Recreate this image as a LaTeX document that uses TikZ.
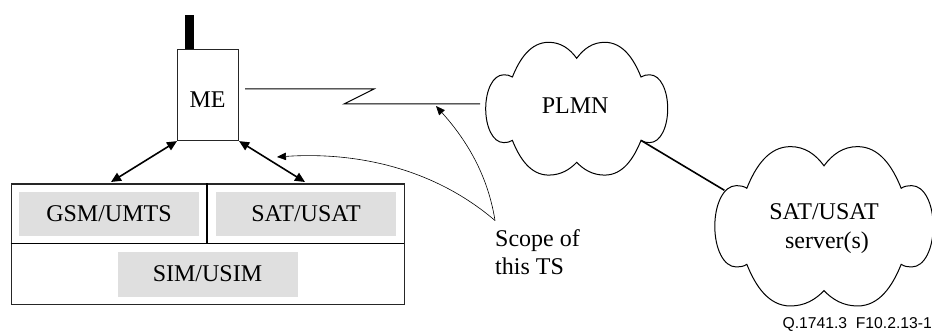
\documentclass[tikz,border=0pt]{standalone}
\usepackage{fontspec}
\setmainfont{Liberation Serif}
\newfontfamily\labelsans{Liberation Sans}
\usetikzlibrary{arrows.meta}
\newcommand{\cloudoutline}{%
  (0,-50.4) .. controls (7,-60) and (16,-66.4) .. (28,-66.4)
  .. controls (46,-66.4) and (57,-50) .. (64.3,-31.7)
  .. controls (67,-33.5) and (70,-33.9) .. (73,-33.9)
  .. controls (84,-33.9) and (91,-18) .. (91,0)
  .. controls (91,18) and (84,33.9) .. (73,33.9)
  .. controls (70,33.9) and (67,33.5) .. (64.3,31.7)
  .. controls (57,50) and (46,66.4) .. (28,66.4)
  .. controls (16,66.4) and (7,61) .. (0,53.6)
  .. controls (-7,61) and (-16,66.4) .. (-28,66.4)
  .. controls (-46,66.4) and (-57,50) .. (-64.3,31.7)
  .. controls (-67,33.5) and (-70,33.9) .. (-73,33.9)
  .. controls (-84,33.9) and (-91,18) .. (-91,0)
  .. controls (-91,-18) and (-84,-33.9) .. (-73,-33.9)
  .. controls (-70,-33.9) and (-67,-33.5) .. (-64.3,-31.7)
  .. controls (-57,-50) and (-46,-66.4) .. (-28,-66.4)
  .. controls (-16,-66.4) and (-7,-60) .. (0,-50.4) -- cycle}
\definecolor{cardgrey}{HTML}{DFDFDF}
\tikzset{
  x=1pt,y=-1pt,
  txt/.style={font=\fontsize{24}{28}\selectfont,inner sep=0pt,align=center},
  greybox/.style={txt,fill=cardgrey,minimum width=180pt,minimum height=44pt,text height=15pt,text depth=0pt},
  frame/.style={draw=black!85,line width=1.1pt},
  heavy/.style={line width=1.9pt},
  cloudline/.style={draw=black,line width=1pt},
  dblarrow/.style={line width=1.6pt,{Triangle[length=10pt,width=9pt]}-{Triangle[length=10pt,width=9pt]}},
  scopearrow/.style={line width=0.6pt,-{Triangle[length=9pt,width=7.5pt]}},
  wire/.style={line width=1pt},
}
\begin{document}
\begin{tikzpicture}
\useasboundingbox (0,0) rectangle (932,331);
\fill[white] (0,0) rectangle (932,331);
% SIM card
\node[frame,minimum width=393.5pt,minimum height=120.5pt,inner sep=0pt,anchor=north west] (card) at (10.5,183.5) {};
\coordinate (divL) at (10.5,243.5);
\coordinate (divR) at (404,243.5);
\coordinate (divT) at (207,183.5);
\coordinate (divB) at (207,243.5);
\draw[heavy] (divL) -- (divR);
\draw[heavy] (divT) -- (divB);
\node[greybox] (gsm) at (109,214) {GSM/UMTS};
\node[greybox] (sat) at (306,214) {SAT/USAT};
\node[greybox] (sim) at (207.5,274.5) {SIM/USIM};
% ME
\node[frame,minimum width=61pt,minimum height=91pt,inner sep=0pt,anchor=north west] (me) at (177,49) {};
\node[txt,anchor=base] (metxt) at (207.5,108) {ME};
\node[fill=black,minimum width=9pt,minimum height=34pt,inner sep=0pt,anchor=north west] (antenna) at (185,15) {};
% clouds
\begin{scope}[shift={(576.7,108.7)}]
  \draw[cloudline] \cloudoutline;
  \coordinate (plmnport) at (64.3,31.7);
\end{scope}
\begin{scope}[shift={(824,226.3)},scale=1.2]
  \draw[cloudline] \cloudoutline;
  \coordinate (serverport) at (-83,-30);
\end{scope}
\node[txt,anchor=base] (plmn) at (575.2,114) {PLMN};
\node[txt,anchor=base] (servera) at (824,220) {SAT/USAT};
\node[txt,anchor=base] (serverb) at (827,248) {server(s)};
\draw[line width=1.6pt] (plmnport) -- (serverport);
% radio link
\coordinate (linkA) at (245,89);
\coordinate (linkB) at (374,89);
\coordinate (linkC) at (344,104);
\coordinate (linkD) at (480,104);
\draw[wire] (linkA) -- (linkB) -- (linkC) -- (linkD);
% ME arrows
\coordinate (gsmport) at (111,182);
\coordinate (satport) at (305,182);
\draw[dblarrow] (gsmport) -- (me.south west);
\draw[dblarrow] (satport) -- (me.south east);
% scope
\node[txt,anchor=base west,align=left] (scopea) at (495,247) {Scope of};
\node[txt,anchor=base west,align=left] (scopeb) at (495,275) {this TS};
\coordinate (scopetip) at (495,220.5);
\coordinate (tipA) at (436,106);
\coordinate (tipB) at (277,157);
\draw[scopearrow] (scopetip) .. controls (487,170) and (462,135) .. (tipA);
\draw[scopearrow] (scopetip) .. controls (430,165) and (350,152) .. (tipB);
% reference
\node[font=\labelsans\fontsize{15.7}{17}\selectfont,inner sep=0pt,anchor=base east] (ref) at (932,328) {Q.1741.3\ \ F10.2.13-1};
\end{tikzpicture}
\end{document}
